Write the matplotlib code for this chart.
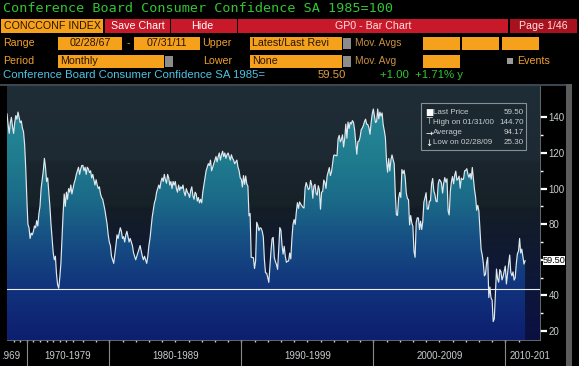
"""
Bloomberg-style GP chart: Conference Board Consumer Confidence SA 1985=100
"""
import numpy as np
import matplotlib
matplotlib.use("Agg")
import matplotlib.pyplot as plt
from matplotlib.colors import LinearSegmentedColormap
from matplotlib.patches import Rectangle, Polygon

W, H = 579, 366

# ── data ──────────────────────────────────────────────────────────────────────
# Feb 1967 - Jun 1977 survey was bimonthly (one point every two months)
cci_bimonthly = [
    142, 136, 131, 137, 140, 135,      # 1967
    131, 137, 141, 139, 143, 140,      # 1968
    137, 138, 134, 132, 125, 112,      # 1969
    95, 80, 78, 72, 75, 74,            # 1970
    76, 79, 78, 82, 79, 86,            # 1971
    90, 100, 105, 110, 117, 112,       # 1972
    104, 106, 98, 90, 80, 72,          # 1973
    64, 60, 62, 52, 46, 44,            # 1974
    50, 58, 72, 86, 97, 90,            # 1975
    98, 94, 100, 98, 102, 97,          # 1976
    100, 103, 105,                     # 1977 Feb-Jun
]
# Jul 1977 - Jul 2011 monthly
cci_monthly = [
    108, 110, 112, 108, 111, 113,                                        # 1977 H2
    113, 110, 112, 108, 112, 111, 109, 110, 106, 108, 105, 102,          # 1978
    105, 102, 100, 101, 97, 95, 94, 91, 88, 84, 80, 74,                  # 1979
    70, 68, 62, 60, 58, 63, 68, 74, 72, 75, 78, 76,                      # 1980
    72, 73, 70, 74, 76, 73, 70, 72, 70, 68, 64, 62,                      # 1981
    60, 62, 64, 66, 68, 65, 62, 60, 62, 60, 58, 62,                      # 1982
    68, 72, 78, 84, 88, 92, 94, 98, 100, 102, 100, 104,                  # 1983
    106, 104, 108, 105, 103, 108, 106, 102, 104, 100, 104, 102,          # 1984
    104, 100, 98, 102, 99, 101, 100, 102, 98, 96, 100, 98,               # 1985
    97, 95, 99, 101, 96, 94, 98, 97, 93, 95, 92, 94,                     # 1986
    92, 98, 102, 106, 110, 112, 114, 113, 116, 110, 112, 114,            # 1987
    116, 118, 115, 118, 120, 116, 119, 121, 118, 120, 117, 119,          # 1988
    120, 118, 116, 119, 117, 116, 114, 115, 116, 112, 110, 106,          # 1989
    105.3, 100.9, 107.3, 102.4, 107.1, 102.6, 101.4, 84.7, 86.0, 61.4, 61.3, 61.2,   # 1990
    55.1, 59.4, 81.1, 79.4, 76.4, 78.0, 77.7, 76.1, 72.9, 60.1, 52.7, 52.5,          # 1991
    50.2, 47.3, 56.5, 65.1, 71.9, 72.6, 61.2, 59.0, 57.3, 54.6, 65.6, 78.1,          # 1992
    76.7, 68.5, 63.2, 67.6, 61.9, 58.6, 59.2, 59.3, 63.8, 60.5, 71.9, 79.8,          # 1993
    82.6, 79.9, 86.7, 92.1, 88.9, 92.5, 91.3, 90.4, 89.5, 89.1, 100.4, 103.4,        # 1994
    101.4, 99.4, 100.2, 104.6, 102.0, 94.6, 101.4, 102.4, 97.3, 96.3, 101.6, 99.2,   # 1995
    88.4, 98.0, 98.4, 104.8, 103.5, 100.1, 107.0, 109.4, 111.8, 107.3, 109.5, 114.2, # 1996
    118.7, 118.9, 118.5, 118.5, 127.9, 129.9, 126.3, 127.6, 130.2, 123.4, 128.1, 136.2,  # 1997
    128.3, 137.4, 133.8, 137.2, 136.3, 138.2, 137.2, 133.1, 126.4, 119.3, 126.4, 126.7,  # 1998
    128.9, 133.1, 134.0, 135.5, 137.7, 139.0, 136.2, 136.0, 134.2, 130.5, 137.0, 141.7,  # 1999
    144.7, 140.8, 137.1, 137.7, 144.7, 139.2, 143.0, 140.8, 142.5, 135.8, 132.6, 128.6,  # 2000
    115.7, 109.2, 116.9, 109.9, 116.1, 118.9, 116.3, 114.0, 97.0, 85.3, 84.9, 94.6,  # 2001
    97.8, 95.0, 110.7, 108.5, 110.3, 106.3, 97.4, 94.5, 93.7, 79.6, 84.9, 80.7,      # 2002
    78.8, 64.8, 61.4, 81.0, 83.6, 83.5, 77.0, 81.7, 77.0, 81.7, 92.5, 94.8,          # 2003
    97.7, 88.5, 88.5, 93.0, 93.1, 102.8, 105.7, 98.7, 96.7, 92.9, 92.6, 102.7,       # 2004
    105.1, 104.4, 103.0, 97.5, 103.1, 106.2, 103.6, 105.5, 87.5, 85.2, 98.3, 103.8,  # 2005
    106.8, 102.7, 107.5, 109.8, 104.7, 105.4, 107.0, 100.2, 105.9, 105.1, 105.3, 110.0,  # 2006
    110.2, 111.2, 108.2, 106.3, 108.5, 105.3, 111.9, 105.6, 99.5, 95.2, 87.8, 90.6,  # 2007
    87.3, 76.4, 65.9, 62.8, 58.1, 51.0, 51.9, 58.5, 61.4, 38.8, 44.7, 38.6,          # 2008
    37.4, 25.3, 26.9, 40.8, 54.8, 49.3, 47.4, 54.5, 53.4, 48.7, 50.6, 53.6,          # 2009
    56.5, 46.4, 52.3, 57.7, 62.7, 52.9, 51.0, 53.2, 48.6, 49.9, 57.8, 63.4,          # 2010
    64.8, 72.0, 63.8, 66.0, 61.7, 57.6, 59.5,                                        # 2011
]
values = np.array(cci_bimonthly + cci_monthly, dtype=float)
obs = np.arange(len(values))

year_start_obs = [6 * (y - 1967) for y in range(1968, 1978)] + \
                 [63 + 6 + 12 * (y - 1978) for y in range(1978, 2012)]
decade_labels = [".969", "1970-1979", "1980-1989", "1990-1999", "2000-2009", "2010-201"]
decade_obs = [18, 93, 213, 333, 453]      # first observation of each decade

y_major = [20, 40, 60, 80, 100, 120, 140]
y_labels = ["20", "40", "", "80", "100", "120", "140"]
y_minor = [30, 50, 70, 90, 110, 130]

last_price, high_val, avg_val, low_val = 59.50, 144.70, 94.17, 25.30
ref_line = 43.5

# ── colours ───────────────────────────────────────────────────────────────────
BLACK  = "#000000"
ORANGE = "#f5a11c"
ORTXT  = "#f0a030"
BOXTXT = "#2a1400"
RED    = "#c8192a"
GREEN  = "#33c433"
CYAN   = "#4cc4e6"
GREY   = "#c8cdd0"

fig = plt.figure(figsize=(W / 100, H / 100), dpi=100, facecolor=BLACK)

# header layer in pixel coordinates
hdr = fig.add_axes([0, 0, 1, 1])
hdr.set_xlim(0, W)
hdr.set_ylim(H, 0)
hdr.axis("off")

SANS = "Liberation Sans"

def box(x0, y0, x1, y1, fc, ec="none", z=1):
    hdr.add_patch(Rectangle((x0, y0), x1 - x0, y1 - y0, facecolor=fc, edgecolor=ec, lw=0.6, zorder=z))

def txt(x, y, s, c, size=7.7, ha="left", fam=SANS, **kw):
    hdr.text(x, y, s, color=c, fontsize=size, ha=ha, va="center", family=fam, **kw)

# title
txt(3, 9, "Conference Board Consumer Confidence SA 1985=100", GREEN, size=9.7, fam="DejaVu Sans Mono")

# row 2 - buttons
box(1, 19, 103, 33, ORANGE)
txt(4, 26.3, "CONCCONF INDEX", BOXTXT)
box(105, 19, 170, 33, RED)
txt(137.5, 26.3, "Save Chart", "white", ha="center")
box(171, 19, 237, 33, RED)
txt(202, 26.3, "Hide", "white", ha="center")
box(238, 19, 508, 33, RED)
txt(373, 26.3, "GP0 - Bar Chart", "#ffe0e0", ha="center")
box(510, 19, 577, 33, "#a8121f")
txt(543, 26.3, "Page 1/46", "#ffe0e0", ha="center")

# row 3
txt(3, 43, "Range", ORTXT)
box(58, 37, 122, 50, ORANGE)
txt(90, 43.5, "02/28/67", BOXTXT, ha="center")
txt(128, 43, "-", ORTXT, ha="center")
box(134, 37, 200, 50, ORANGE)
txt(167, 43.5, "07/31/11", BOXTXT, ha="center")
txt(202, 43, "Upper", ORTXT)
box(250, 37, 342, 50, ORANGE)
txt(252, 43.5, "Latest/Last Revi", BOXTXT)
box(343, 38, 351, 49, "#8c8c8c")
txt(355, 43, "Mov. Avgs", "#c89040", size=7.4)
box(423, 37, 460, 50, ORANGE)
box(462, 37, 499, 50, ORANGE)
box(502, 37, 539, 50, ORANGE)

# row 4
txt(3, 61, "Period", ORTXT)
box(58, 55, 164, 68, ORANGE)
txt(60, 61.5, "Monthly", BOXTXT)
box(165, 56, 173, 67, "#8c8c8c")
txt(203, 61, "Lower", ORTXT)
box(250, 55, 342, 68, ORANGE)
txt(252, 61.5, "None", BOXTXT)
box(343, 56, 351, 67, "#8c8c8c")
txt(355, 61, "Mov. Avg", "#c89040", size=7.4)
box(423, 55, 460, 68, ORANGE)
box(507, 58, 513, 64, "#9a9a9a")
txt(517, 61, "Events", ORTXT)

# row 5 - security line
txt(3, 75.5, "Conference Board Consumer Confidence SA 1985=", CYAN, size=8.2)
txt(318, 75.5, "59.50", "#e0a040", size=8.2)
txt(380, 75.5, "+1.00  +1.71% y", GREEN, size=8.2)

# frame pieces
box(0, 84, 566, 86, "#3a4750")
box(566, 84, 572, 366, "#5c5c5c")

# ── chart ─────────────────────────────────────────────────────────────────────
PX0, PX1, PY0, PY1 = 7, 540, 86, 340
ax = fig.add_axes([PX0 / W, 1 - PY1 / H, (PX1 - PX0) / W, (PY1 - PY0) / H])
xpx_per_obs = 1.1
xlim = (0, (PX1 - PX0) / xpx_per_obs)
ylim = (20 - (PY1 - 331) / 1.78, 20 + (331 - PY0) / 1.78)
ax.set_xlim(*xlim)
ax.set_ylim(*ylim)

bg_cmap = LinearSegmentedColormap.from_list("bg", [
    (0.00, "#0b1042"), (0.25, "#0e1838"), (0.52, "#141d26"),
    (0.53, "#172128"), (0.70, "#1a252d"), (0.71, "#1d2a33"), (1.00, "#1f2d36")])
fill_cmap = LinearSegmentedColormap.from_list("fill", [
    (0.00, "#0d1f70"), (0.20, "#11327c"), (0.42, "#175384"), (0.55, "#1b6a88"),
    (0.72, "#1f7c8e"), (1.00, "#2b8f9d")])
grad = np.linspace(0, 1, 400).reshape(-1, 1)
ax.imshow(grad, extent=[xlim[0], xlim[1], ylim[0], ylim[1]], origin="lower",
          aspect="auto", cmap=bg_cmap, zorder=0)
fill_im = ax.imshow(grad, extent=[xlim[0], xlim[1], ylim[0], ylim[1]], origin="lower",
                    aspect="auto", cmap=fill_cmap, zorder=1)
verts = [(obs[0], ylim[0])] + list(zip(obs, values)) + [(obs[-1], ylim[0])]
clip = Polygon(verts, closed=True, facecolor="none", edgecolor="none")
ax.add_patch(clip)
fill_im.set_clip_path(clip)

ax.plot(obs, values, color="#dfe9ee", lw=0.85, zorder=3)
ax.axhline(ref_line, color="#e8eef2", lw=0.8, zorder=4)

# axes styling
for s in ["top", "left"]:
    ax.spines[s].set_visible(False)
ax.spines["right"].set_color("#707a80")
ax.spines["bottom"].set_color("#707a80")
ax.spines["right"].set_linewidth(0.6)
ax.spines["bottom"].set_linewidth(0.6)
ax.yaxis.tick_right()
ax.set_yticks(y_major)
ax.set_yticklabels(y_labels)
ax.set_yticks(y_minor, minor=True)
ax.tick_params(axis="y", which="major", colors="white", length=5, width=1.6,
               labelsize=7, labelcolor=GREY, pad=1)
ax.tick_params(axis="y", which="minor", colors="white", length=2.5, width=1)
for lab in ax.get_yticklabels():
    lab.set_family(SANS)
ax.set_xticks(year_start_obs)
ax.set_xticklabels([])
ax.tick_params(axis="x", colors="#d0d0d0", length=1.5, width=1)

# header layer sits above the chart so legend / tags overlay it
hdr.set_zorder(ax.get_zorder() + 1)
hdr.patch.set_visible(False)

# legend box
lg_x0, lg_x1, lg_y0, lg_y1 = 421, 526, 103, 150
hdr.add_patch(Rectangle((lg_x0, lg_y0), lg_x1 - lg_x0, lg_y1 - lg_y0, facecolor="#1b282f",
                        edgecolor="#8c969c", lw=0.8, zorder=5, alpha=0.95))
rows = [("■", "Last Price", f"{last_price:.2f}"),
        ("⊤", "High on 01/31/00", f"{high_val:.2f}"),
        ("→", "Average", f"{avg_val:.2f}"),
        ("↓", "Low on 02/28/09", f"{low_val:.2f}")]
for k, (sym, lab, val) in enumerate(rows):
    yy = [112.5, 122, 133, 143][k]
    txt(425, yy, sym, "white", size=6.2, fam="DejaVu Sans", zorder=6)
    txt(433, yy, lab, GREY, size=5.8, zorder=6)
    txt(524, yy, val, GREY, size=5.8, ha="right", zorder=6)

# last price tag on the axis
lp_y = 331 - (last_price - 20) * 1.78
box(543, lp_y - 4.5, 565, lp_y + 4.5, "white", z=6)
txt(554, lp_y + 0.3, f"{last_price:.2f}", "black", size=6.6, ha="center", zorder=7)

# decade separators and labels
for d in decade_obs:
    xp = PX0 + d * xpx_per_obs
    hdr.plot([xp, xp], [340, 366], color="#8a8a8a", lw=0.8)
lab_x = [PX0 + (a + b) / 2 * xpx_per_obs for a, b in zip(decade_obs[:-1], decade_obs[1:])]
txt(1, 356, decade_labels[0], GREY, size=7)
for s, xp in zip(decade_labels[1:-1], lab_x):
    txt(xp, 356, s, GREY, size=7, ha="center")
txt(PX0 + decade_obs[-1] * xpx_per_obs + 4, 356, decade_labels[-1], GREY, size=7)

fig.savefig("out.png", dpi=100, facecolor=BLACK)
